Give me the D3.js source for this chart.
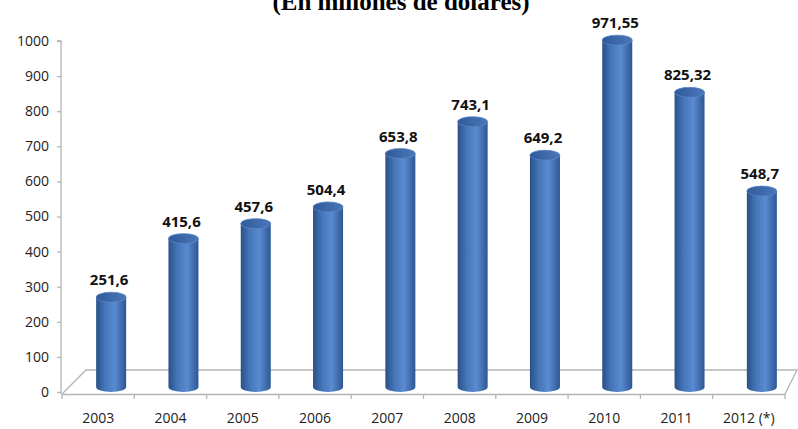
<!DOCTYPE html>
<html>
<head>
<meta charset="utf-8">
<script src="https://cdn.jsdelivr.net/npm/d3@7"></script>
<style>
  body { margin: 0; background: #fff; }
  svg { display: block; }
</style>
</head>
<body>
<div id="chart"></div>
<script>
let years = ["2003", "2004", "2005", "2006", "2007", "2008", "2009", "2010", "2011", "2012 (*)"];
let values = [251.6, 415.6, 457.6, 504.4, 653.8, 743.1, 649.2, 971.55, 825.32, 548.7];
let valueLabels = ["251,6", "415,6", "457,6", "504,4", "653,8", "743,1", "649,2", "971,55", "825,32", "548,7"];
let yTicks = [0, 100, 200, 300, 400, 500, 600, 700, 800, 900, 1000];
let title = "(En millones de dólares)";

let width = 798, height = 429;
let depthX = 24, depthY = 22;
let barW = 30, ellRy = 5;

let svg = d3.select("#chart").append("svg").attr("width", width).attr("height", height);

// gradient for cylinders
let defs = svg.append("defs");
let grad = defs.append("linearGradient").attr("id", "cyl").attr("x1", "0%").attr("x2", "100%");
grad.append("stop").attr("offset", "0%").attr("stop-color", "#2a5088");
grad.append("stop").attr("offset", "30%").attr("stop-color", "#4576b9");
grad.append("stop").attr("offset", "62%").attr("stop-color", "#5a8bd1");
grad.append("stop").attr("offset", "100%").attr("stop-color", "#2d5793");
let gradTop = defs.append("linearGradient").attr("id", "cylTop").attr("x1", "0%").attr("x2", "100%");
gradTop.append("stop").attr("offset", "0%").attr("stop-color", "#30599a");
gradTop.append("stop").attr("offset", "100%").attr("stop-color", "#4a77b8");

let x = d3.scaleBand().domain(years).range([62, 785]);
let y = d3.scaleLinear().domain([0, 1000]).range([392, 41]);
let yBar = d3.scaleLinear().domain([0, 1000]).range([387, 30]);

// title (cut off at the top, as in the original)
svg.append("text").attr("x", 401).attr("y", 10).attr("text-anchor", "middle")
    .attr("style", "font: bold 25px 'Liberation Serif', 'Times New Roman', serif").attr("fill", "#000")
    .text(title);

// floor
let floorColor = "#b4b4b4";
let x0 = x.range()[0], x1 = x.range()[1];
let yFront = 394;
svg.append("path")
    .attr("d", "M" + x0 + "," + yFront + " L" + (x0 + depthX) + "," + (yFront - depthY - 2) + " L" + (x1 + 12) + "," + (yFront - depthY - 2) +
        " L" + x1 + "," + yFront)
    .attr("fill", "none").attr("stroke", floorColor).attr("stroke-width", 1.3);

// y axis
let yAxis = d3.axisLeft(y).tickValues(yTicks).tickFormat(d3.format("d")).tickSize(4).tickPadding(8);
let gy = svg.append("g").attr("transform", "translate(61,0)").call(yAxis);
gy.select(".domain").attr("stroke", floorColor).attr("stroke-width", 1.3).attr("d", "M-4," + y(1000) + "H0V" + yFront);
gy.selectAll(".tick line").attr("stroke", floorColor).attr("stroke-width", 1.3);
gy.selectAll(".tick text").attr("fill", "#222").attr("style", "font: 14px 'Open Sans', sans-serif");

// x axis (front edge)
let xAxis = d3.axisBottom(x).tickSize(0).tickPadding(19);
let gx = svg.append("g").attr("transform", "translate(0," + yFront + ")").call(xAxis);
gx.select(".domain").attr("stroke", floorColor).attr("stroke-width", 1.3);
gx.selectAll(".tick text").attr("fill", "#222").attr("style", "font: 14px 'Open Sans', sans-serif");
// category boundary ticks
gx.selectAll(".sep").data(years.map(d => x(d)).concat([x1]))
    .enter().append("line").attr("class", "sep")
    .attr("x1", d => d).attr("x2", d => d).attr("y1", 0).attr("y2", 5)
    .attr("stroke", floorColor).attr("stroke-width", 1.3);

// cylinders
let bars = svg.append("g");
years.forEach((yr, i) => {
    let cx = x(yr) + x.bandwidth() / 2 + 13;
    let yb = yBar(0);
    let yt = yBar(values[i]);
    let g = bars.append("g");
    g.append("path")
        .attr("d", "M" + (cx - barW / 2) + "," + yt + " L" + (cx - barW / 2) + "," + yb +
            " A" + (barW / 2) + "," + ellRy + " 0 0 0 " + (cx + barW / 2) + "," + yb +
            " L" + (cx + barW / 2) + "," + yt + " Z")
        .attr("fill", "url(#cyl)");
    g.append("ellipse").attr("cx", cx).attr("cy", yt).attr("rx", barW / 2).attr("ry", ellRy)
        .attr("fill", "url(#cylTop)").attr("stroke", "#5b86c4").attr("stroke-width", 0.8);
    g.append("text").attr("x", cx - 2).attr("y", yt - 12).attr("text-anchor", "middle")
        .attr("style", "font: bold 15px 'Open Sans', sans-serif").attr("fill", "#111")
        .text(valueLabels[i]);
});
</script>
</body>
</html>
